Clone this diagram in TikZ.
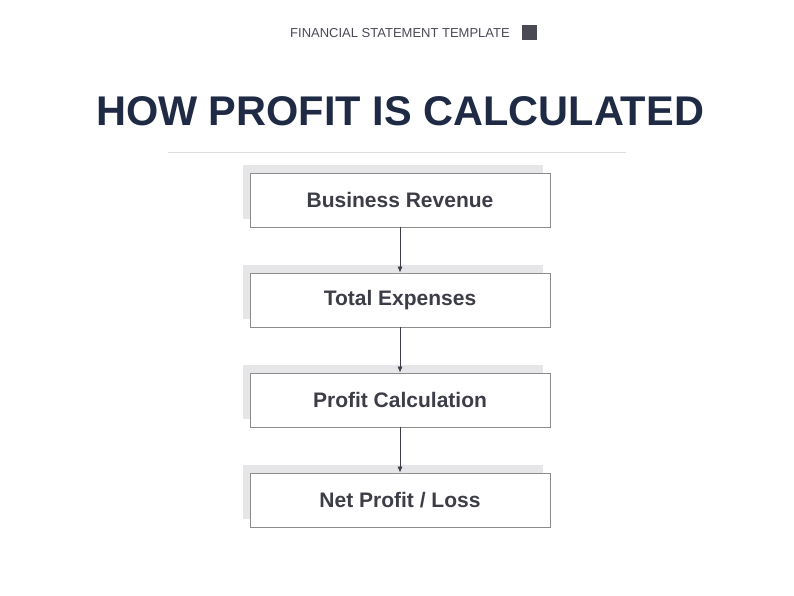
\documentclass[tikz,border=0pt]{standalone}
\usepackage{fontspec}
\setmainfont{Liberation Sans}
\usetikzlibrary{positioning}
\usetikzlibrary{shadows}
\usetikzlibrary{arrows.meta}

\definecolor{titlenavy}{HTML}{1F2A44}
\definecolor{textgray}{HTML}{3D3D48}
\definecolor{framegray}{HTML}{8C8C8C}
\definecolor{shadegray}{HTML}{E6E6E8}
\definecolor{rulegray}{HTML}{DDDDDD}
\definecolor{markgray}{HTML}{4A4A55}

\tikzset{
	stepbox/.style={draw=framegray,line width=0.8pt,fill=white,minimum width=300pt,minimum height=54pt,
		font=\fontsize{21}{25}\selectfont\bfseries,text=textgray,
		drop shadow={shadow xshift=-7pt,shadow yshift=8pt,fill=shadegray,opacity=1}},
	flow/.style={draw=textgray,line width=0.6pt,-{Latex[length=6pt,width=5pt]}}
}

\begin{document}
\begin{tikzpicture}[x=1pt,y=-1pt]
	\useasboundingbox (0,0) rectangle (794,596);
	% header
	\node[font=\fontsize{13}{15}\selectfont,text=markgray] (head) at (400,33) {FINANCIAL STATEMENT TEMPLATE};
	\node[fill=markgray,minimum size=15pt,inner sep=0pt,right=8pt of head] (mark) {};
	\node[font=\fontsize{41.5}{48}\selectfont\bfseries,text=titlenavy] (title) at (400,111) {HOW PROFIT IS CALCULATED};
	\draw[rulegray,line width=0.8pt] (168,152) -- (626,152);
	% boxes
	\node[stepbox] (revenue) at (400,200) {Business Revenue};
	\node[stepbox,below=45.2pt of revenue] (expenses) {Total Expenses};
	\node[stepbox,below=45.2pt of expenses] (calc) {Profit Calculation};
	\node[stepbox,below=45.2pt of calc] (net) {Net Profit / Loss};
	% arrows
	\draw[flow] (revenue) -- (expenses);
	\draw[flow] (expenses) -- (calc);
	\draw[flow] (calc) -- (net);
\end{tikzpicture}
\end{document}
